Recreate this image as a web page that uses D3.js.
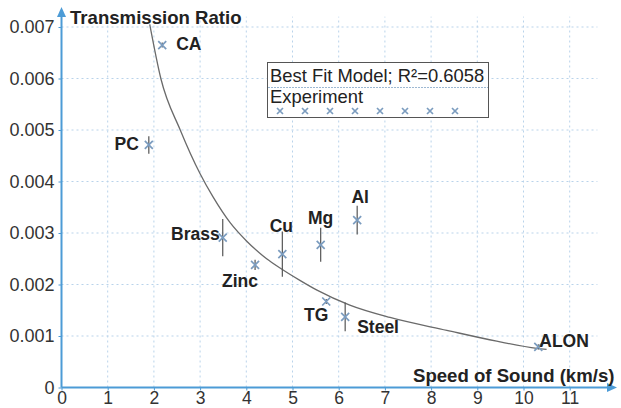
<!DOCTYPE html>
<html><head><meta charset="utf-8">
<script src="https://cdn.jsdelivr.net/npm/d3@7"></script>
<style>body{margin:0;background:#fff}svg{display:block}text{font-family:"Liberation Sans",Arial,sans-serif}</style>
</head><body><svg id="c" width="621" height="408"></svg>
<script>
// Data (speed of sound km/s, transmission ratio)
const materials = ["CA","PC","Brass","Zinc","Cu","Mg","Al","TG","Steel","ALON"];
const speeds    = [2.18, 1.89, 3.49, 4.19, 4.78, 5.61, 6.40, 5.73, 6.14, 10.32];
const ratios    = [0.00665,0.00471,0.00291,0.00238,0.00259,0.00277,0.00325,0.00167,0.00137,0.00079];
const errors    = [0.00005,0.00017,0.00036,0.00010,0.00044,0.00033,0.00028,0.00005,0.00028,0.00005];
const fitX = [1.91,2.15,2.57,3.00,3.28,3.65,4.01,4.44,4.73,5.16,5.53,6.24,7.11,8.34,9.42,10.29,10.50];
const fitY = [0.00705,0.00600,0.00500,0.00415,0.00370,0.00320,0.00284,0.00250,0.00232,0.00208,0.00189,0.00160,0.00136,0.00111,0.00090,0.00076,0.00074];
const xTicks = [0,1,2,3,4,5,6,7,8,9,10,11];
const yTicks = [0,0.001,0.002,0.003,0.004,0.005,0.006,0.007];
const yTickLabels = ["0","0.001","0.002","0.003","0.004","0.005","0.006","0.007"];
const legendLabels = ["Best Fit Model; R\u00b2=0.6058","Experiment"];
// label offsets (dx, dy, anchor) relative to marker
const labelPos = {
  CA:[14,5,"start"], PC:[-10,5,"end"], Brass:[-3,2,"end"], Zinc:[-33,22,"start"],
  Cu:[-1,-22,"middle"], Mg:[0,-21,"middle"], Al:[3,-17,"middle"], TG:[-10,20,"middle"],
  Steel:[12,16,"start"], ALON:[1,0,"start"]
};

const svg = d3.select("#c");
const x = d3.scaleLinear().domain([0,11]).range([61.5,569.7]);
const y = d3.scaleLinear().domain([0,0.007]).range([387.5,27]);
const blue = "#4c9bd6";

// grid
const grid = svg.append("g").attr("stroke","#b9d3ea").attr("stroke-dasharray","2,3").attr("stroke-width",1);
xTicks.filter(d=>d>0).forEach(d=>grid.append("line").attr("x1",x(d)).attr("x2",x(d)).attr("y1",y(0)).attr("y2",y(0.0072)));
yTicks.filter(d=>d>0).forEach(d=>grid.append("line").attr("x1",x(0)).attr("x2",x(11.6)).attr("y1",y(d)).attr("y2",y(d)));

// axes
const xAxis = d3.axisBottom(x).tickValues(xTicks).tickSize(3).tickPadding(1).tickFormat(d3.format("d"));
const gx = svg.append("g").attr("transform",`translate(0,${y(0)})`).call(xAxis);
gx.select(".domain").remove();
gx.selectAll(".tick line").attr("stroke",blue);
gx.selectAll(".tick text").attr("font-size",17.5).attr("fill","#333").attr("dy","0.71em");
const yAxis = d3.axisLeft(y).tickValues(yTicks).tickSize(3).tickPadding(4).tickFormat((d,i)=>yTickLabels[i]);
const gy = svg.append("g").attr("transform",`translate(${x(0)},0)`).call(yAxis);
gy.select(".domain").remove();
gy.selectAll(".tick line").attr("stroke",blue);
gy.selectAll(".tick text").attr("font-size",18).attr("fill","#333");

svg.append("line").attr("x1",x(0)).attr("x2",609).attr("y1",y(0)).attr("y2",y(0)).attr("stroke",blue).attr("stroke-width",2);
svg.append("path").attr("d",`M617,${y(0)} L607,${y(0)-4.5} L607,${y(0)+4.5}Z`).attr("fill",blue);
svg.append("line").attr("x1",x(0)).attr("x2",x(0)).attr("y1",y(0)).attr("y2",16).attr("stroke",blue).attr("stroke-width",2);
svg.append("path").attr("d",`M${x(0)},7 L${x(0)-4.5},17 L${x(0)+4.5},17Z`).attr("fill",blue);

svg.append("text").attr("x",70).attr("y",24).attr("font-size",18.6).attr("font-weight","bold").attr("fill","#222").text("Transmission Ratio");
svg.append("text").attr("x",413).attr("y",382).attr("font-size",18.6).attr("font-weight","bold").attr("fill","#222").text("Speed of Sound (km/s)");

// fit curve
const fit = fitX.map((v,i)=>[v,fitY[i]]);
svg.append("path").datum(fit).attr("fill","none").attr("stroke","#6a6a6a").attr("stroke-width",1.3)
  .attr("d",d3.line().x(d=>x(d[0])).y(d=>y(d[1])).curve(d3.curveMonotoneX));

// error bars
const pts = materials.map((m,i)=>({m,sx:speeds[i],r:ratios[i],e:errors[i]}));
svg.append("g").selectAll("line").data(pts).join("line")
  .attr("x1",d=>x(d.sx)).attr("x2",d=>x(d.sx)).attr("y1",d=>y(d.r+d.e)).attr("y2",d=>y(d.r-d.e))
  .attr("stroke","#555").attr("stroke-width",1.2);

// markers
function cross(g,cx,cy,s){
  g.append("path").attr("d",`M${cx-s},${cy-s}L${cx+s},${cy+s}M${cx-s},${cy+s}L${cx+s},${cy-s}`)
   .attr("stroke","#7b9cbf").attr("stroke-width",1.7).attr("fill","none");
}
const mg = svg.append("g");
pts.forEach(d=>cross(mg,x(d.sx),y(d.r),4));

// labels
svg.append("g").selectAll("text").data(pts).join("text")
  .attr("x",d=>x(d.sx)+labelPos[d.m][0]).attr("y",d=>y(d.r)+labelPos[d.m][1])
  .attr("text-anchor",d=>labelPos[d.m][2]).attr("font-size",17.5).attr("font-weight","bold").attr("fill","#222")
  .text(d=>d.m);

// legend
const lg = svg.append("g");
lg.append("rect").attr("x",267.5).attr("y",62.5).attr("width",221).attr("height",55).attr("fill","#fff").attr("stroke","#555").attr("stroke-width",1);
lg.append("text").attr("x",270).attr("y",82).attr("font-size",18.4).attr("fill","#222").text(legendLabels[0]);
lg.append("line").attr("x1",268).attr("x2",488).attr("y1",87.5).attr("y2",87.5).attr("stroke","#9db8d2").attr("stroke-width",1).attr("stroke-dasharray","2,1");
lg.append("text").attr("x",270).attr("y",103).attr("font-size",18.4).attr("fill","#222").text(legendLabels[1]);
d3.range(8).forEach(i=>cross(lg,280+i*25,111,3));
</script></body></html>
